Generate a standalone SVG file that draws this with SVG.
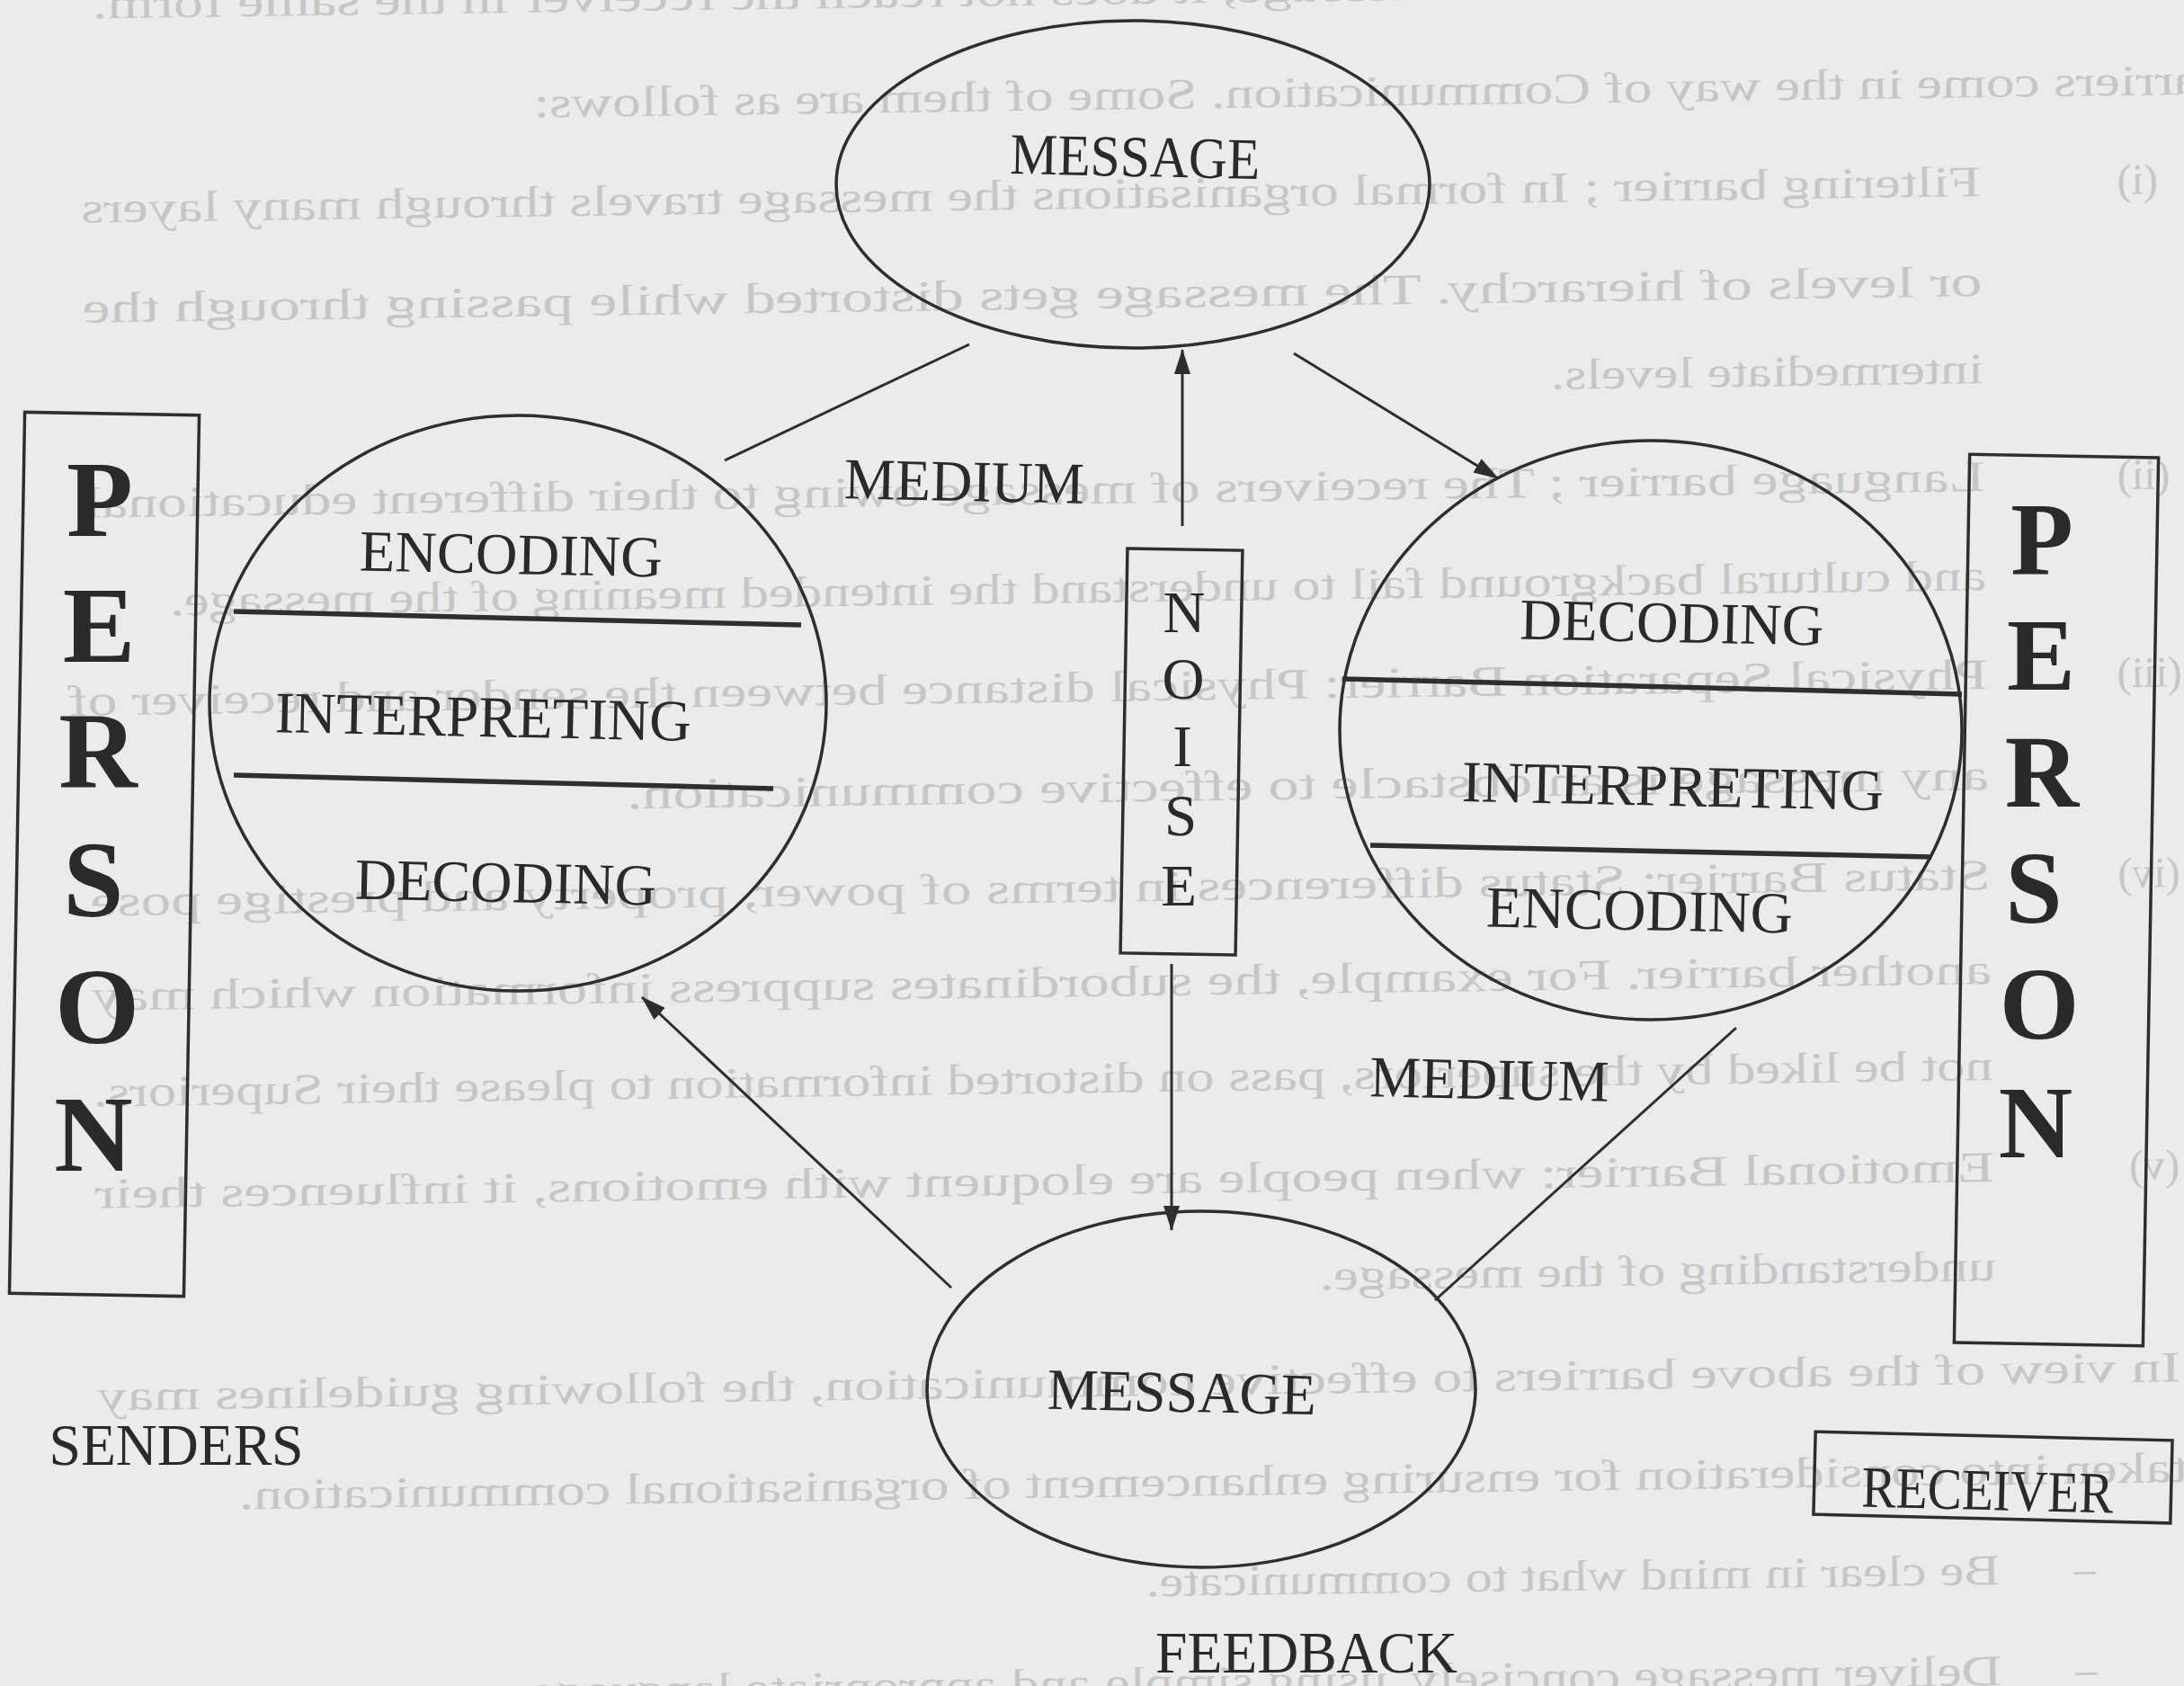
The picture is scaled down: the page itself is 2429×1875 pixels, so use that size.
<svg xmlns="http://www.w3.org/2000/svg" width="2429" height="1875" viewBox="0 0 2429 1875">
<defs>
<style>
.ink{fill:none;stroke:#2e2e2e;stroke-width:3.5}
.sep{fill:none;stroke:#2e2e2e;stroke-width:5.5}
.conn{fill:none;stroke:#2e2e2e;stroke-width:3}
.lbl{font-family:"Liberation Serif","Times New Roman",serif;font-size:65px;fill:#2a2a2a;text-anchor:middle}
.big{font-family:"Liberation Serif","Times New Roman",serif;font-weight:bold;fill:#2a2a2a;text-anchor:middle}
.bg{font-family:"Liberation Serif","Times New Roman",serif;font-size:48px;fill:#c6c6c6}
</style>
<marker id="ah" viewBox="0 0 28 18" refX="27" refY="9" markerWidth="28" markerHeight="18" orient="auto" markerUnits="userSpaceOnUse"><path d="M0,0 L28,9 L0,18 z" fill="#2e2e2e"/></marker>
</defs>
<rect width="2429" height="1875" fill="#ebebeb"/>

<g id="show-through" transform="rotate(-0.8 1214 937) translate(2429 0) scale(-1 1)">
<text class="bg" x="9" y="5" textLength="2304" lengthAdjust="spacingAndGlyphs">barriers hinder the flow of the message, it does not reach the receiver in the same form.</text>
<text class="bg" x="-70" y="122" textLength="1894" lengthAdjust="spacingAndGlyphs">Barriers come in the way of Communication. Some of them are as follows:</text>
<text class="bg" x="19" y="232">(i)</text>
<text class="bg" x="216" y="232" textLength="2113" lengthAdjust="spacingAndGlyphs">Filtering barrier ; In formal organisations the message travels through many layers</text>
<text class="bg" x="216" y="343" textLength="2113" lengthAdjust="spacingAndGlyphs">or levels of hierarchy. The message gets distorted while passing through the</text>
<text class="bg" x="216" y="440" textLength="481" lengthAdjust="spacingAndGlyphs">intermediate levels.</text>
<text class="bg" x="10" y="560">(ii)</text>
<text class="bg" x="216" y="560" textLength="2113" lengthAdjust="spacingAndGlyphs">Language barrier ; The receivers of message owing to their different educational</text>
<text class="bg" x="216" y="670" textLength="2020" lengthAdjust="spacingAndGlyphs">and cultural background fail to understand the intended meaning of the message.</text>
<text class="bg" x="0" y="780">(iii)</text>
<text class="bg" x="216" y="780" textLength="2135" lengthAdjust="spacingAndGlyphs">Physical Separation Barrier: Physical distance between the sender and receiver of</text>
<text class="bg" x="216" y="892" textLength="1515" lengthAdjust="spacingAndGlyphs">any message is an obstacle to effective communication.</text>
<text class="bg" x="5" y="1003">(iv)</text>
<text class="bg" x="216" y="1003" textLength="2113" lengthAdjust="spacingAndGlyphs">Status Barrier: Status differences in terms of power, property and prestige pose</text>
<text class="bg" x="216" y="1108" textLength="2113" lengthAdjust="spacingAndGlyphs">another barrier. For example, the subordinates suppress information which may</text>
<text class="bg" x="216" y="1215" textLength="2113" lengthAdjust="spacingAndGlyphs">not be liked by the superiors, pass on distorted information to please their Superiors.</text>
<text class="bg" x="10" y="1328">(v)</text>
<text class="bg" x="216" y="1328" textLength="2113" lengthAdjust="spacingAndGlyphs">Emotional Barrier: when people are eloquent with emotions, it influences their</text>
<text class="bg" x="216" y="1438" textLength="752" lengthAdjust="spacingAndGlyphs">understanding of the message.</text>
<text class="bg" x="12" y="1553" textLength="2317" lengthAdjust="spacingAndGlyphs">In view of the above barriers to effective communication, the following guidelines may</text>
<text class="bg" x="-70" y="1665" textLength="2243" lengthAdjust="spacingAndGlyphs">be taken into consideration for ensuring enhancement of organisational communication.</text>
<text class="bg" x="110" y="1776">–</text>
<text class="bg" x="216" y="1776" textLength="950" lengthAdjust="spacingAndGlyphs">Be clear in mind what to communicate.</text>
<text class="bg" x="110" y="1888">–</text>
<text class="bg" x="216" y="1888" textLength="1650" lengthAdjust="spacingAndGlyphs">Deliver message concisely, using simple and appropriate language.</text>
</g>

<g id="connectors">
<line class="conn" x1="1078" y1="383" x2="806" y2="512"/>
<line class="conn" x1="1439" y1="393" x2="1666" y2="532" marker-end="url(#ah)"/>
<line class="conn" x1="1315" y1="585" x2="1315" y2="389" marker-end="url(#ah)"/>
<line class="conn" x1="1303" y1="1072" x2="1303" y2="1368" marker-end="url(#ah)"/>
<line class="conn" x1="1931" y1="1143" x2="1596" y2="1446"/>
<line class="conn" x1="1058" y1="1432" x2="714" y2="1109" marker-end="url(#ah)"/>
<text class="lbl" x="1072" y="557" textLength="267" lengthAdjust="spacingAndGlyphs" transform="rotate(1.2 1072 557)">MEDIUM</text>
<text class="lbl" x="1656" y="1222" textLength="266" lengthAdjust="spacingAndGlyphs" transform="rotate(1.2 1656 1222)">MEDIUM</text>
</g>

<g id="message-top">
<ellipse class="ink" cx="1260" cy="205" rx="330" ry="182"/>
<text class="lbl" x="1262" y="196" textLength="278" lengthAdjust="spacingAndGlyphs" transform="rotate(1.2 1262 196)">MESSAGE</text>
</g>

<g id="sender-process">
<ellipse class="ink" cx="576" cy="782" rx="343" ry="320"/>
<line class="sep" x1="260" y1="680" x2="891" y2="695"/>
<line class="sep" x1="260" y1="862" x2="860" y2="877"/>
<text class="lbl" x="568" y="638" textLength="337" lengthAdjust="spacingAndGlyphs" transform="rotate(1.2 568 638)">ENCODING</text>
<text class="lbl" x="537" y="819" textLength="463" lengthAdjust="spacingAndGlyphs" transform="rotate(1.2 537 819)">INTERPRETING</text>
<text class="lbl" x="562" y="1003" textLength="335" lengthAdjust="spacingAndGlyphs" transform="rotate(1.2 562 1003)">DECODING</text>
</g>

<g id="receiver-process">
<ellipse class="ink" cx="1836" cy="812" rx="346" ry="322"/>
<line class="sep" x1="1493" y1="755" x2="2182" y2="772"/>
<line class="sep" x1="1524" y1="940" x2="2148" y2="953"/>
<text class="lbl" x="1859" y="714" textLength="338" lengthAdjust="spacingAndGlyphs" transform="rotate(1.2 1859 714)">DECODING</text>
<text class="lbl" x="1860" y="896" textLength="469" lengthAdjust="spacingAndGlyphs" transform="rotate(1.2 1860 896)">INTERPRETING</text>
<text class="lbl" x="1823" y="1034" textLength="341" lengthAdjust="spacingAndGlyphs" transform="rotate(1.2 1823 1034)">ENCODING</text>
</g>

<g id="noise">
<rect class="ink" x="1250" y="611" width="128" height="450" transform="rotate(1 1314 836)"/>
<text class="lbl" x="1317" y="703">N</text>
<text class="lbl" x="1316" y="777">O</text>
<text class="lbl" x="1315" y="852">I</text>
<text class="lbl" x="1313" y="929">S</text>
<text class="lbl" x="1311" y="1007">E</text>
</g>

<g id="message-bottom">
<ellipse class="ink" cx="1336" cy="1545" rx="305" ry="198"/>
<text class="lbl" x="1314" y="1570" textLength="299" lengthAdjust="spacingAndGlyphs" transform="rotate(1.2 1314 1570)">MESSAGE</text>
</g>

<g id="person-sender">
<rect class="ink" x="19" y="460" width="194" height="980" transform="rotate(1 116 950)"/>
<text class="big" font-size="121" x="111" y="596">P</text>
<text class="big" font-size="121" x="110" y="736">E</text>
<text class="big" font-size="121" x="109" y="876">R</text>
<text class="big" font-size="121" x="104" y="1019">S</text>
<text class="big" font-size="121" x="108" y="1160">O</text>
<text class="big" font-size="121" x="104" y="1302">N</text>
</g>

<g id="person-receiver">
<rect class="ink" x="2182" y="507" width="210" height="988" transform="rotate(1 2287 1001)"/>
<text class="big" font-size="114" x="2271" y="638">P</text>
<text class="big" font-size="114" x="2270" y="767">E</text>
<text class="big" font-size="114" x="2271" y="897">R</text>
<text class="big" font-size="114" x="2262" y="1026">S</text>
<text class="big" font-size="114" x="2268" y="1155">O</text>
<text class="big" font-size="114" x="2264" y="1287">N</text>
</g>

<g id="senders-label">
<text class="lbl" x="196" y="1629" textLength="283" lengthAdjust="spacingAndGlyphs">SENDERS</text>
</g>

<g id="receiver-label">
<rect class="ink" x="2018" y="1597" width="397" height="92" transform="rotate(1.4 2216 1643)"/>
<text class="lbl" x="2210" y="1679" textLength="280" lengthAdjust="spacingAndGlyphs" transform="rotate(1.4 2210 1679)">RECEIVER</text>
</g>

<g id="feedback-label">
<text class="lbl" x="1453" y="1860" textLength="336" lengthAdjust="spacingAndGlyphs">FEEDBACK</text>
</g>
</svg>
